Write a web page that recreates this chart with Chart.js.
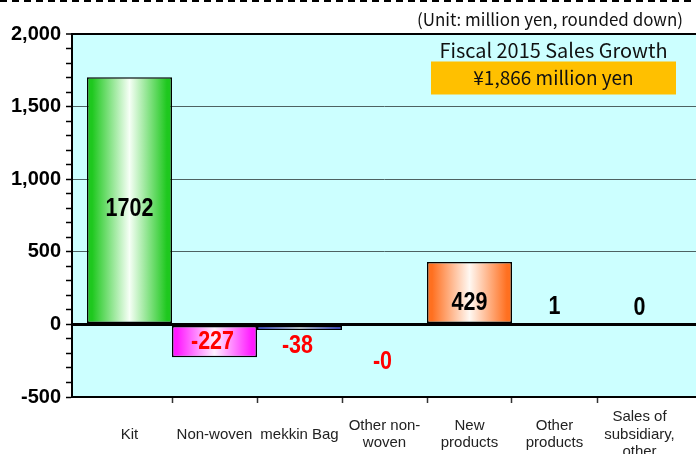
<!DOCTYPE html>
<html><head><meta charset="utf-8">
<script src="https://cdn.jsdelivr.net/npm/chart.js@4.4.1/dist/chart.umd.min.js"></script>
<style>html,body{margin:0;padding:0;background:#fff;overflow:hidden}#wrap{width:696px;height:454px;position:relative}</style>
</head><body><div id="wrap"><canvas id="c" width="696" height="454"></canvas></div>
<script>
// ---- data ----
const categories = [["Kit"], ["Non-woven"], ["mekkin Bag"], ["Other non-", "woven"], ["New", "products"], ["Other", "products"], ["Sales of", "subsidiary,", "other"]];
const growth = [1702, -227, -38, -0.4, 429, 1, 0];
const yTicks = [-500, 0, 500, 1000, 1500, 2000];
const unitNote = "(Unit: million yen, rounded down)";
const headline = "Fiscal 2015 Sales Growth";
const headlineValue = "¥1,866 million yen";

// ---- styles ----
const barColors = ["#1ec81e", "#ff1aff", "#2020e6", "#00b0f0", "#ff7020", "#99cc00", "#999999"];
const barCenters = ["#f6fff6", "#fff0ff", "#f4f4ff", "#ffffff", "#fff8f2", "#ffffff", "#ffffff"];
// label placement: inside labels nudge from bar middle, outside labels offset from bar end
const labelInside = [true, true, false, false, true, false, false];
const labelNudge = [9, 0, 16, 38, 11, 17, 16.5];

const fmt = v => (v < 0 ? '-' : '') + Math.floor(Math.abs(v));
const gothic = '"Noto Sans CJK JP", "Noto Sans", sans-serif';
const tv = c => (c && c.tick) ? c.tick.value : NaN;

function barFill(c) {
  const chart = c.chart, i = c.dataIndex;
  const xs = chart.scales && chart.scales.x;
  if (!xs || i === undefined || !chart.chartArea) return barColors[i || 0];
  const cx = xs.getPixelForValue(i), half = xs.getPixelForValue(i + 0.5) - cx;
  const g = chart.ctx.createLinearGradient(cx - half, 0, cx + half, 0);
  g.addColorStop(0, barColors[i]);
  g.addColorStop(0.06, barColors[i]);
  g.addColorStop(0.5, barCenters[i]);
  g.addColorStop(0.94, barColors[i]);
  g.addColorStop(1, barColors[i]);
  return g;
}

const decor = {
  id: 'decor',
  beforeDraw(chart) {
    const {ctx, chartArea: a} = chart;
    ctx.save();
    ctx.fillStyle = '#fff';
    ctx.fillRect(0, 0, chart.width, chart.height);
    ctx.fillStyle = '#ccffff';
    ctx.fillRect(a.left, a.top, a.right - a.left, a.bottom - a.top);
    ctx.strokeStyle = '#000';
    ctx.lineWidth = 2;
    ctx.setLineDash([7, 5]);
    ctx.beginPath(); ctx.moveTo(0, 1); ctx.lineTo(chart.width, 1); ctx.stroke();
    ctx.restore();
  },
  afterDatasetsDraw(chart) {
    const {ctx, chartArea: a} = chart;
    const meta = chart.getDatasetMeta(0);
    ctx.save();
    ctx.font = 'bold 25px "Liberation Sans", Arial, sans-serif';
    ctx.textAlign = 'center';
    ctx.textBaseline = 'middle';
    meta.data.forEach((el, i) => {
      const v = growth[i];
      const txt = fmt(v);
      let y;
      if (labelInside[i]) y = (el.y + el.base) / 2 + labelNudge[i];
      else y = v < 0 ? el.y + labelNudge[i] : el.y - labelNudge[i];
      ctx.fillStyle = v < 0 ? '#ff0000' : '#000';
      const w = ctx.measureText(txt).width * 0.86;
      ctx.fillText(txt, el.x - (v < 0 ? 2 : 0), y, w);
    });
    // headline box
    const bx = a.right - 265, by = a.top + 27.5, bw = 245, bh = 33;
    ctx.fillStyle = '#ffc000';
    ctx.fillRect(bx, by, bw, bh);
    ctx.fillStyle = '#111';
    ctx.font = '20px ' + gothic;
    ctx.fillText(headline, bx + bw / 2, a.top + 16, 228);
    ctx.font = '19px ' + gothic;
    ctx.fillText(headlineValue, bx + bw / 2, by + bh / 2, 162);
    // unit note
    ctx.textAlign = 'right';
    ctx.font = '17px ' + gothic;
    ctx.fillText(unitNote, chart.width - 13, 20, 266);
    ctx.restore();
  }
};

const minorTicks = [];
for (let v = yTicks[0]; v <= yTicks[yTicks.length - 1]; v += 100) minorTicks.push(v);

new Chart(document.getElementById('c'), {
  type: 'bar',
  data: {
    datasets: [{
      data: growth.map((v, i) => ({x: i, y: v})),
      backgroundColor: barFill,
      borderColor: '#000',
      borderWidth: 1.5,
      borderSkipped: false,
      barPercentage: 1,
      categoryPercentage: 2   // ticks sit at half-category spacing, so fill the full category
    }]
  },
  options: {
    responsive: false,
    animation: false,
    layout: {padding: {top: 34, right: 0, left: 0, bottom: 0}},
    plugins: {legend: {display: false}, tooltip: {enabled: false}},
    scales: {
      x: {
        type: 'linear',
        offset: false,
        bounds: 'data',
        min: -0.5 - 15 / 85,
        max: 6.5 + 14 / 85,
        afterBuildTicks: s => {
          const t = [];
          for (let i = 0; i <= (categories.length - 1) * 2; i++) t.push({value: i / 2});
          s.ticks = t;
        },
        ticks: {
          autoSkip: false, maxRotation: 0, minRotation: 0,
          callback: v => Number.isInteger(v) ? categories[v] : '',
          font: {family: '"Liberation Sans", Arial, sans-serif', size: 15, lineHeight: 1.17},
          color: '#222',
          padding: 14,
          crossAlign: 'center'
        },
        grid: {
          offset: false,
          drawOnChartArea: false,
          tickLength: 6,
          tickWidth: 1.5,
          tickColor: c => Number.isInteger(tv(c)) ? 'rgba(0,0,0,0)' : '#333'
        },
        border: {color: '#000', width: 2},
        afterFit: s => { s.height = 57; s.paddingLeft = 0; s.paddingRight = 0; }
      },
      y: {
        min: yTicks[0],
        max: yTicks[yTicks.length - 1],
        afterBuildTicks: s => { s.ticks = minorTicks.map(v => ({value: v})); },
        ticks: {
          autoSkip: false,
          callback: v => yTicks.includes(v) ? v.toLocaleString('en-US') : '',
          font: {family: '"Liberation Sans", Arial, sans-serif', weight: 'bold', size: 20},
          color: '#000',
          padding: 5
        },
        grid: {
          color: c => {
            const v = tv(c);
            if (v === 0 || v === yTicks[yTicks.length - 1] || v === yTicks[0]) return '#000';
            return yTicks.includes(v) ? '#4d6262' : 'rgba(0,0,0,0)';
          },
          lineWidth: c => tv(c) === 0 ? 3 : (tv(c) === yTicks[yTicks.length - 1] ? 2 : 1),
          tickColor: '#000',
          tickWidth: 1.5,
          tickLength: 6
        },
        border: {color: '#000', width: 2},
        afterFit: s => { s.width = 72; s.paddingTop = 0; s.paddingBottom = 0; }
      }
    }
  },
  plugins: [decor]
});
</script>
</body></html>
